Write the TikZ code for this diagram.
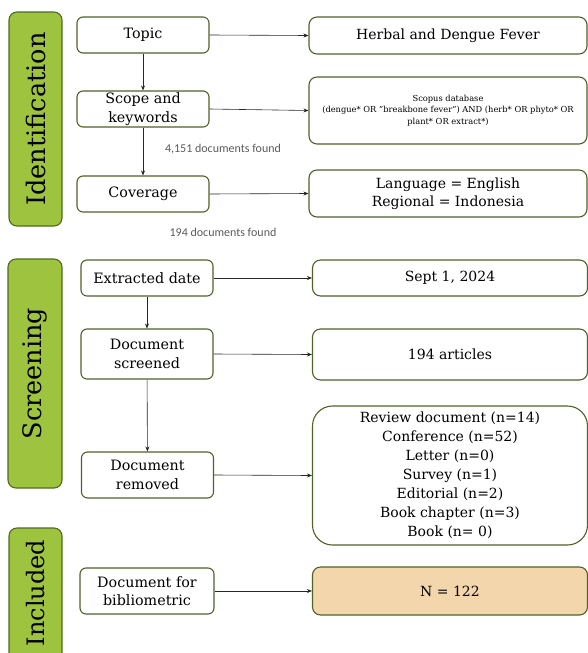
\documentclass[tikz,border=0pt]{standalone}
\usepackage{fontspec}
\setmainfont{DejaVu Serif}
\newfontfamily\graysans{Carlito}
\usetikzlibrary{arrows.meta}
\definecolor{phasegreen}{HTML}{9DC33F}
\definecolor{phaseborder}{HTML}{4F6B22}
\definecolor{boxborder}{HTML}{4F6228}
\definecolor{tanfill}{HTML}{F4D6AD}
\definecolor{graytext}{HTML}{5A5A5A}
\begin{document}
\begin{tikzpicture}[x=1pt,y=-1pt,
  box/.style={draw=boxborder, line width=1.1pt, rounded corners=6pt, fill=white, inner sep=0pt, align=center, font=\fontsize{14.3}{18.5}\selectfont},
  leftbox/.style={box, minimum width=132pt},
  rightbox/.style={box, rounded corners=8pt, minimum width=275pt, font=\fontsize{14}{18.5}\selectfont},
  phase/.style={draw=phaseborder, line width=1.1pt, fill=phasegreen, rounded corners=8pt, inner sep=0pt, font=\fontsize{25.5}{30}\selectfont, rotate=90},
  note/.style={font=\graysans\fontsize{12}{14}\selectfont, text=graytext, inner sep=0pt},
  conn/.style={draw=black!85, line width=0.6pt, -{Stealth[length=5pt,width=4pt]}}]
\useasboundingbox (0,0) rectangle (588,653);
\clip (0,0) rectangle (588,653);

% phase boxes
\node[phase, minimum width=214pt, minimum height=53pt] (ident) at (35.5,119) {Identification};
\node[phase, minimum width=229pt, minimum height=54pt] (screening) at (35,373.5) {Screening};
\node[phase, minimum width=140pt, minimum height=53pt] (included) at (35.5,598) {};
\node[rotate=90, inner sep=0pt, font=\fontsize{24}{28}\selectfont] (inclabel) at (35.5,593) {Included};

% left column
\node[leftbox, minimum height=36pt] (topic) at (143,35) {Topic};
\node[leftbox, minimum height=36pt] (scope) at (143,109) {Scope and\\keywords};
\node[leftbox, minimum height=36pt] (cov) at (143,194) {Coverage};
\node[leftbox, minimum height=36pt] (extr) at (147,278) {Extracted date};
\node[leftbox, minimum height=50pt] (screen) at (147,354) {Document\\screened};
\node[leftbox, minimum height=46pt] (removed) at (147.5,475) {Document\\removed};
\node[leftbox, minimum width=134pt, minimum height=46pt] (biblio) at (147,591) {Document for\\bibliometric};

% right column
\node[rightbox, minimum width=278pt, minimum height=37pt] (herbal) at (448,35.5) {Herbal and Dengue Fever};
\node[rightbox, minimum width=278pt, minimum height=67pt, font=\fontsize{8.3}{11.5}\selectfont] (scopus) at (448,110.5) {Scopus database\\(dengue* OR "breakbone fever") AND (herb* OR phyto* OR\\plant* OR extract*)};
\node[rightbox, minimum width=278pt, minimum height=47pt] (lang) at (448,193.5) {Language = English\\Regional = Indonesia};
\node[rightbox, minimum height=36pt] (sept) at (450,278) {Sept 1, 2024};
\node[rightbox, minimum height=51pt] (articles) at (450,354.5) {194 articles};
\node[rightbox, rounded corners=20pt, minimum height=139pt, font=\fontsize{14}{19}\selectfont] (review) at (450,475.5) {Review document (n=14)\\Conference (n=52)\\Letter (n=0)\\Survey (n=1)\\Editorial (n=2)\\Book chapter (n=3)\\Book (n= 0)};
\node[rightbox, fill=tanfill, minimum height=48pt] (ntotal) at (450,591) {N = 122};

% notes
\node[note] (found1) at (223,149) {4,151 documents found};
\node[note] (found2) at (223,232) {194 documents found};

% vertical arrows
\draw[conn] (topic) -- (scope);
\draw[conn] (scope) -- (cov);
\draw[conn] (extr) -- (screen);
\draw[conn] (screen) -- (removed);

% horizontal arrows
\draw[conn] (topic.east) -- (herbal.west);
\draw[conn] (scope.east) -- (scopus.west);
\draw[conn] (cov.east) -- (lang.west);
\draw[conn] (extr.east) -- (sept.west);
\draw[conn] (screen.east) -- (articles.west);
\draw[conn] (removed.east) -- (review.west);
\draw[conn] (biblio.east) -- (ntotal.west);
\end{tikzpicture}
\end{document}
